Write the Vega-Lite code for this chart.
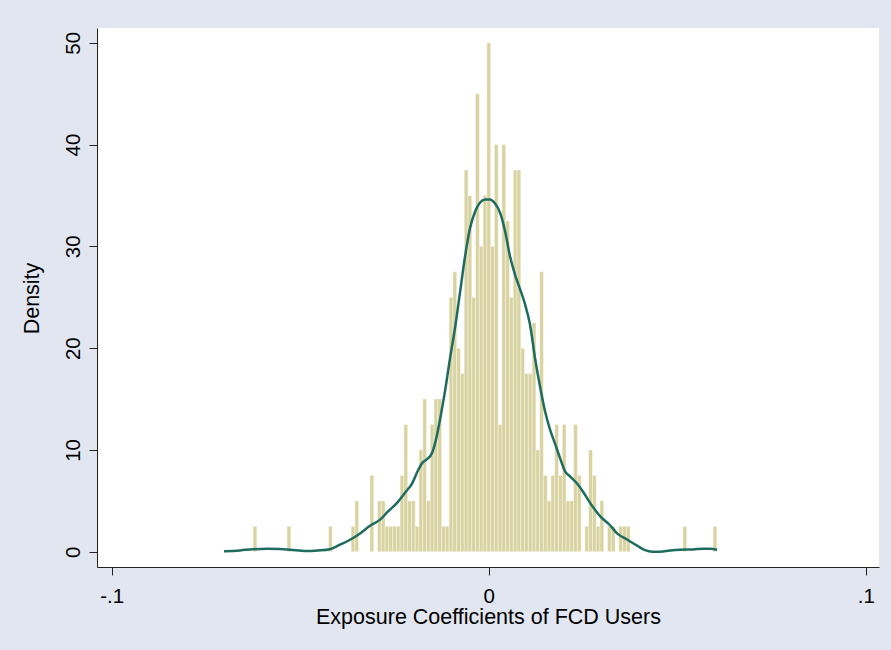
{
  "$schema": "https://vega.github.io/schema/vega-lite/v6.json",
  "width": 782,
  "height": 539,
  "autosize": {"type": "none"},
  "padding": {"left": 97, "top": 28, "right": 12, "bottom": 83},
  "background": "#e2e6f0",
  "config": {
    "view": {"fill": "white", "stroke": null},
    "font": "Liberation Sans",
    "axis": {
      "grid": false,
      "domainColor": "#222222",
      "domainWidth": 1,
      "tickColor": "#222222",
      "tickWidth": 1,
      "tickSize": 8,
      "labelColor": "#000000",
      "titleColor": "#000000",
      "labelFontSize": 20.5,
      "titleFontSize": 21.5,
      "titleFontWeight": "normal",
      "labelFont": "Liberation Sans",
      "titleFont": "Liberation Sans"
    }
  },
  "datasets": {
    "bars": [
      {"lo": -0.0625, "hi": -0.0615, "density": 2.5},
      {"lo": -0.0535, "hi": -0.0525, "density": 2.5},
      {"lo": -0.0425, "hi": -0.0415, "density": 2.5},
      {"lo": -0.0365, "hi": -0.0355, "density": 2.5},
      {"lo": -0.0355, "hi": -0.0345, "density": 5},
      {"lo": -0.0315, "hi": -0.0305, "density": 7.5},
      {"lo": -0.0295, "hi": -0.0285, "density": 5},
      {"lo": -0.0285, "hi": -0.0275, "density": 5},
      {"lo": -0.0275, "hi": -0.0265, "density": 2.5},
      {"lo": -0.0265, "hi": -0.0255, "density": 2.5},
      {"lo": -0.0255, "hi": -0.0245, "density": 2.5},
      {"lo": -0.0245, "hi": -0.0235, "density": 2.5},
      {"lo": -0.0235, "hi": -0.0225, "density": 7.5},
      {"lo": -0.0225, "hi": -0.0215, "density": 12.5},
      {"lo": -0.0215, "hi": -0.0205, "density": 5},
      {"lo": -0.0205, "hi": -0.0195, "density": 5},
      {"lo": -0.0195, "hi": -0.0185, "density": 2.5},
      {"lo": -0.0185, "hi": -0.0175, "density": 10},
      {"lo": -0.0175, "hi": -0.0165, "density": 15},
      {"lo": -0.0165, "hi": -0.0155, "density": 5},
      {"lo": -0.0155, "hi": -0.0145, "density": 12.5},
      {"lo": -0.0145, "hi": -0.0135, "density": 15},
      {"lo": -0.0135, "hi": -0.0125, "density": 15},
      {"lo": -0.0125, "hi": -0.0115, "density": 2.5},
      {"lo": -0.0115, "hi": -0.0105, "density": 2.5},
      {"lo": -0.0105, "hi": -0.0095, "density": 25},
      {"lo": -0.0095, "hi": -0.0085, "density": 27.5},
      {"lo": -0.0085, "hi": -0.0075, "density": 20},
      {"lo": -0.0075, "hi": -0.0065, "density": 17.5},
      {"lo": -0.0065, "hi": -0.0055, "density": 37.5},
      {"lo": -0.0055, "hi": -0.0045, "density": 35},
      {"lo": -0.0045, "hi": -0.0035, "density": 25},
      {"lo": -0.0035, "hi": -0.0025, "density": 45},
      {"lo": -0.0025, "hi": -0.0015, "density": 30},
      {"lo": -0.0015, "hi": -0.0005, "density": 35},
      {"lo": -0.0005, "hi": 0.0005, "density": 50},
      {"lo": 0.0005, "hi": 0.0015, "density": 30},
      {"lo": 0.0015, "hi": 0.0025, "density": 40},
      {"lo": 0.0025, "hi": 0.0035, "density": 12.5},
      {"lo": 0.0035, "hi": 0.0045, "density": 40},
      {"lo": 0.0045, "hi": 0.0055, "density": 32.5},
      {"lo": 0.0055, "hi": 0.0065, "density": 25},
      {"lo": 0.0065, "hi": 0.0075, "density": 37.5},
      {"lo": 0.0075, "hi": 0.0085, "density": 37.5},
      {"lo": 0.0085, "hi": 0.0095, "density": 20},
      {"lo": 0.0095, "hi": 0.0105, "density": 17.5},
      {"lo": 0.0105, "hi": 0.0115, "density": 17.5},
      {"lo": 0.0115, "hi": 0.0125, "density": 22.5},
      {"lo": 0.0125, "hi": 0.0135, "density": 10},
      {"lo": 0.0135, "hi": 0.0145, "density": 27.5},
      {"lo": 0.0145, "hi": 0.0155, "density": 7.5},
      {"lo": 0.0155, "hi": 0.0165, "density": 5},
      {"lo": 0.0165, "hi": 0.0175, "density": 7.5},
      {"lo": 0.0175, "hi": 0.0185, "density": 12.5},
      {"lo": 0.0185, "hi": 0.0195, "density": 7.5},
      {"lo": 0.0195, "hi": 0.0205, "density": 12.5},
      {"lo": 0.0205, "hi": 0.0215, "density": 5},
      {"lo": 0.0215, "hi": 0.0225, "density": 5},
      {"lo": 0.0225, "hi": 0.0235, "density": 12.5},
      {"lo": 0.0235, "hi": 0.0245, "density": 7.5},
      {"lo": 0.0255, "hi": 0.0265, "density": 2.5},
      {"lo": 0.0265, "hi": 0.0275, "density": 10},
      {"lo": 0.0275, "hi": 0.0285, "density": 7.5},
      {"lo": 0.0285, "hi": 0.0295, "density": 2.5},
      {"lo": 0.0295, "hi": 0.0305, "density": 5},
      {"lo": 0.0315, "hi": 0.0325, "density": 2.5},
      {"lo": 0.0325, "hi": 0.0335, "density": 2.5},
      {"lo": 0.0345, "hi": 0.0355, "density": 2.5},
      {"lo": 0.0355, "hi": 0.0365, "density": 2.5},
      {"lo": 0.0365, "hi": 0.0375, "density": 2.5},
      {"lo": 0.0515, "hi": 0.0525, "density": 2.5},
      {"lo": 0.0595, "hi": 0.0605, "density": 2.5}
    ],
    "kde": [
      {"x": -0.07021, "density": 0.05},
      {"x": -0.06597, "density": 0.13},
      {"x": -0.06252, "density": 0.25},
      {"x": -0.05881, "density": 0.29},
      {"x": -0.05536, "density": 0.27},
      {"x": -0.05271, "density": 0.2},
      {"x": -0.04846, "density": 0.06},
      {"x": -0.04528, "density": 0.12},
      {"x": -0.0421, "density": 0.25},
      {"x": -0.03944, "density": 0.69},
      {"x": -0.03679, "density": 1.18},
      {"x": -0.03414, "density": 1.8},
      {"x": -0.03149, "density": 2.55},
      {"x": -0.02883, "density": 3.15},
      {"x": -0.02671, "density": 3.96},
      {"x": -0.02432, "density": 4.8},
      {"x": -0.0222, "density": 5.8},
      {"x": -0.02034, "density": 6.7},
      {"x": -0.01875, "density": 8.0},
      {"x": -0.01769, "density": 8.7},
      {"x": -0.01637, "density": 9.1},
      {"x": -0.01504, "density": 9.7},
      {"x": -0.01371, "density": 11.5},
      {"x": -0.01292, "density": 13.0},
      {"x": -0.01159, "density": 15.8},
      {"x": -0.01027, "density": 19.0},
      {"x": -0.00894, "density": 22.0},
      {"x": -0.00761, "density": 25.5},
      {"x": -0.00629, "density": 29.0},
      {"x": -0.00496, "density": 31.8},
      {"x": -0.00363, "density": 33.4},
      {"x": -0.00231, "density": 34.3},
      {"x": -0.00098, "density": 34.6},
      {"x": 0.00034, "density": 34.6},
      {"x": 0.00167, "density": 34.2},
      {"x": 0.003, "density": 33.3},
      {"x": 0.00432, "density": 31.5},
      {"x": 0.00565, "density": 29.0},
      {"x": 0.00698, "density": 27.2},
      {"x": 0.0083, "density": 25.8},
      {"x": 0.00963, "density": 24.3},
      {"x": 0.01095, "density": 22.3},
      {"x": 0.01228, "density": 19.0},
      {"x": 0.01361, "density": 16.2},
      {"x": 0.01493, "density": 13.8},
      {"x": 0.01626, "density": 12.0},
      {"x": 0.01759, "density": 10.6},
      {"x": 0.01891, "density": 9.2},
      {"x": 0.02024, "density": 7.9},
      {"x": 0.02157, "density": 7.4},
      {"x": 0.02342, "density": 6.7},
      {"x": 0.02501, "density": 5.9},
      {"x": 0.02687, "density": 4.8},
      {"x": 0.02952, "density": 3.5},
      {"x": 0.03218, "density": 2.6},
      {"x": 0.03403, "density": 1.8},
      {"x": 0.03668, "density": 1.2},
      {"x": 0.03934, "density": 0.6},
      {"x": 0.04146, "density": 0.15},
      {"x": 0.04332, "density": 0.0},
      {"x": 0.04544, "density": 0.0},
      {"x": 0.04809, "density": 0.13},
      {"x": 0.05074, "density": 0.2},
      {"x": 0.05419, "density": 0.22},
      {"x": 0.05684, "density": 0.3},
      {"x": 0.0587, "density": 0.3},
      {"x": 0.06056, "density": 0.2}
    ]
  },
  "layer": [
    {
      "data": {"name": "bars"},
      "mark": {"type": "bar", "color": "#d8d3a0", "stroke": "#ffffff", "strokeWidth": 0.4},
      "encoding": {
        "x": {
          "field": "lo",
          "type": "quantitative",
          "title": "Exposure Coefficients of FCD Users",
          "scale": {"domain": [-0.1039, 0.1035], "nice": false, "zero": false},
          "axis": {
            "values": [-0.1, 0, 0.1],
            "labelExpr": "datum.value < 0 ? '-.1' : (datum.value > 0 ? '.1' : '0')",
            "labelBaseline": "alphabetic",
            "labelPadding": 27,
            "labelFlush": false,
            "titleY": 56,
            "titleBaseline": "alphabetic"
          }
        },
        "x2": {"field": "hi"},
        "y": {
          "field": "density",
          "type": "quantitative",
          "title": "Density",
          "scale": {"domain": [-1.5, 51.45], "nice": false, "zero": false},
          "axis": {
            "values": [0, 10, 20, 30, 40, 50],
            "labelAngle": -90,
            "labelAlign": "center",
            "labelBaseline": "alphabetic",
            "labelPadding": 10,
            "labelFlush": false,
            "titleAngle": -90,
            "titleX": -65,
            "titleY": 270,
            "titleAlign": "center",
            "titleBaseline": "middle"
          }
        },
        "y2": {"datum": 0}
      }
    },
    {
      "data": {"name": "kde"},
      "mark": {"type": "line", "color": "#1e6b5f", "strokeWidth": 2.5, "interpolate": "monotone"},
      "encoding": {
        "x": {"field": "x", "type": "quantitative", "title": "Exposure Coefficients of FCD Users"},
        "y": {"field": "density", "type": "quantitative", "title": "Density"}
      }
    }
  ]
}
